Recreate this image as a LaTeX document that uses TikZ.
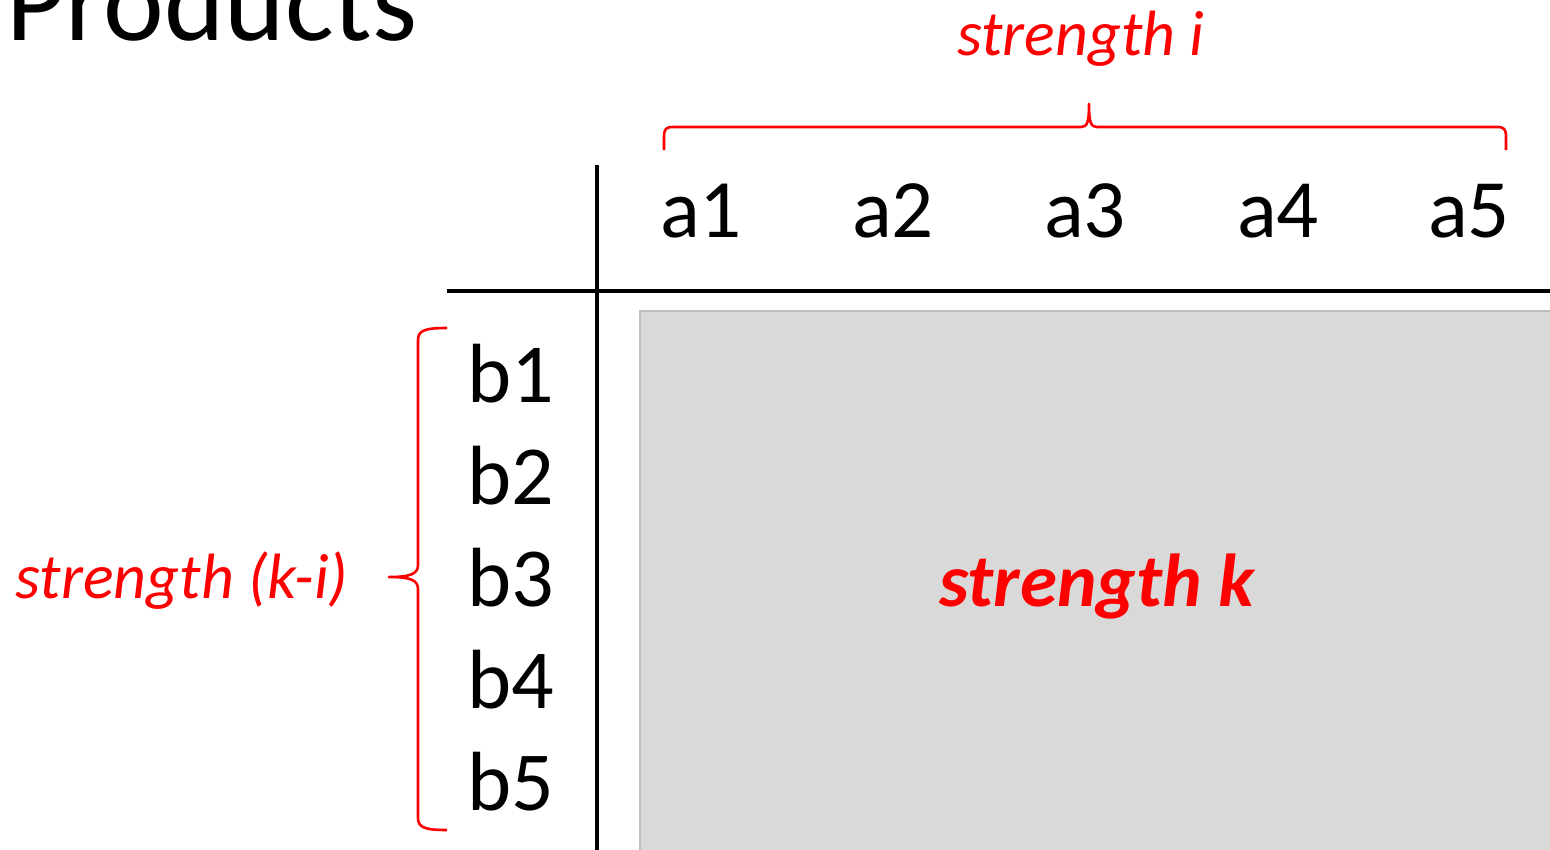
\documentclass[tikz,border=0pt]{standalone}
\usepackage{fontspec}
\setmainfont{Carlito}
\definecolor{accent}{RGB}{255,0,0}
\definecolor{cellfill}{RGB}{217,217,217}
\definecolor{cellline}{RGB}{191,191,191}
\tikzset{
  header/.style={anchor=base, inner sep=0pt, font=\fontsize{83}{100}\selectfont},
  rowhead/.style={anchor=base, inner sep=0pt, font=\fontsize{84}{100}\selectfont},
  rule/.style={line width=4pt, black},
  bracket/.style={draw=accent, line width=2.6pt, line join=round},
  note/.style={anchor=base, inner sep=0pt, text=accent, font=\fontsize{64}{76}\selectfont\itshape},
}
\begin{document}
\begin{tikzpicture}[x=1pt,y=-1pt]
\useasboundingbox (0,0) rectangle (1550,849);

% title, partly outside the frame
\node[anchor=base west, inner sep=0pt, font=\fontsize{115}{134}\selectfont] (title) at (6,40) {Products};

% shaded cell area
\fill[cellfill] (640,311) rectangle (1600,900);
\draw[cellline, line width=2pt] (1600,311) -- (640,311) -- (640,900);
\node[anchor=base, inner sep=0pt, text=accent, font=\fontsize{75}{90}\selectfont\bfseries\itshape] (sk) at (1097,606) {strength k};

% table rules
\coordinate (vtop) at (597,165);
\coordinate (vbot) at (597,860);
\coordinate (hleft) at (447,291);
\coordinate (hright) at (1600,291);
\draw[rule] (vtop) -- (vbot);
\draw[rule] (hleft) -- (hright);

% column headers
\foreach \i/\x in {1/701,2/893,3/1085,4/1278,5/1469}
  \node[header] (a\i) at (\x,237) {a\i};

% row headers
\foreach \i/\y in {1/402,2/504,3/606,4/708,5/810}
  \node[rowhead] (b\i) at (511,\y) {b\i};

% brace over the columns
\draw[bracket] (664,150) -- (664,137) .. controls (664,129) and (666,127) .. (673,127)
  -- (1081,127) .. controls (1087,127) and (1089,123) .. (1089,104)
  .. controls (1089,123) and (1091,127) .. (1097,127)
  -- (1497,127) .. controls (1504,127) and (1506,129) .. (1506,137) -- (1506,150);
\node[note] (si) at (1081,55) {strength i};

% brace beside the rows
\draw[bracket] (447,328) .. controls (426,328) and (418,330) .. (418,340)
  -- (418,565) .. controls (418,574) and (410,577) .. (389,577)
  .. controls (410,577) and (418,580) .. (418,589)
  -- (418,818) .. controls (418,828) and (426,830) .. (447,830);
\node[note] (ski) at (182,598) {strength (k-i)};
\end{tikzpicture}
\end{document}
